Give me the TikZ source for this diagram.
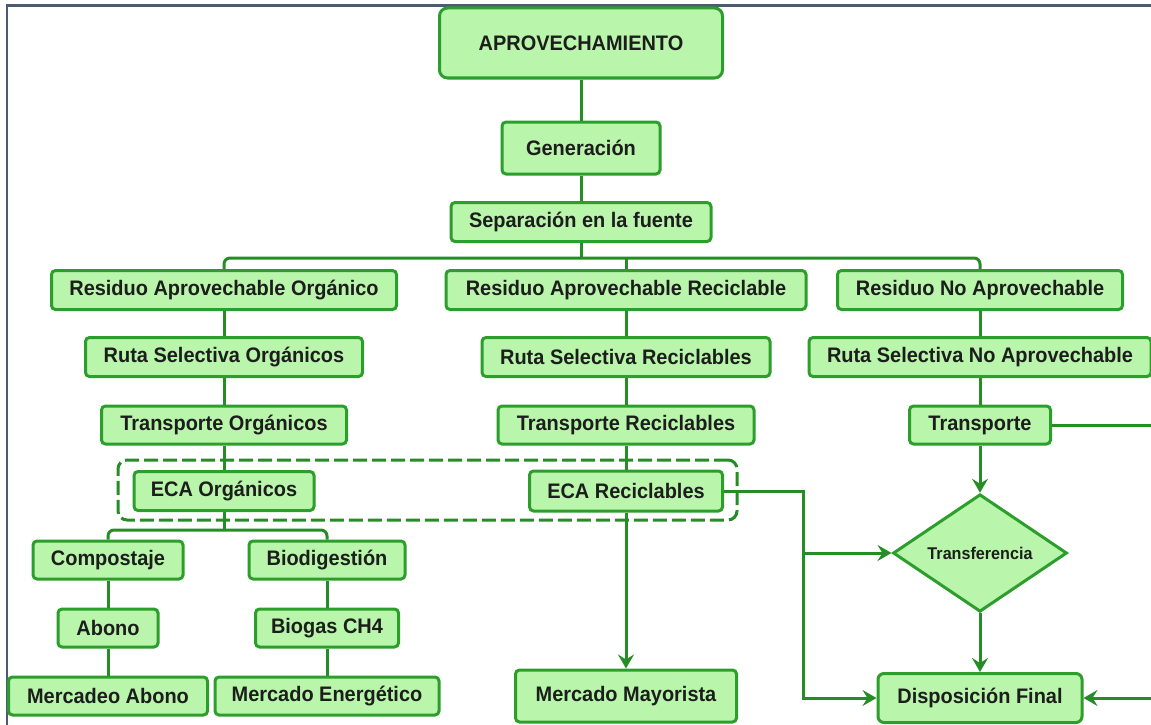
\documentclass[tikz,border=0pt]{standalone}
\usepackage{fontspec}
\setmainfont{Liberation Sans}[FakeStretch=0.95]
\usetikzlibrary{shapes.geometric,arrows.meta}
\definecolor{boxfill}{RGB}{186,245,172}
\definecolor{boxdraw}{RGB}{44,158,44}
\definecolor{linecol}{RGB}{38,140,38}
\definecolor{txtcol}{RGB}{28,30,28}
\definecolor{framecol}{RGB}{75,91,114}
\tikzset{
  box/.style={draw=boxdraw, fill=boxfill, line width=3pt, rounded corners=4pt,
    inner sep=0pt, text=txtcol, font=\fontsize{21}{24}\selectfont\bfseries},
  conn/.style={draw=linecol, line width=3pt},
  arr/.style={conn, -{Stealth[length=14pt,width=16pt,inset=5pt]}},
  grp/.style={draw=linecol, line width=3pt, dash pattern=on 14pt off 5pt, rounded corners=9pt},
}
\begin{document}
\begin{tikzpicture}[x=1pt,y=-1pt]
\path[use as bounding box] (0,0) rectangle (1151,725);
% frame
\draw[framecol, line width=2.4pt] (7,725) -- (7,5.5) -- (1151,5.5);

% dashed group around ECA nodes
\node[grp, minimum width=619pt, minimum height=60pt, inner sep=0pt] (group) at (427.5,490) {};

% nodes
\node[box, rounded corners=8pt, minimum width=283pt, minimum height=70pt] (apro) at (581,43) {APROVECHAMIENTO};
\node[box, minimum width=158pt, minimum height=52pt] (gen) at (581,148) {Generación};
\node[box, minimum width=260pt, minimum height=39pt] (sep) at (581,222) {Separación en la fuente};

\node[box, minimum width=345pt, minimum height=39pt] (rao) at (224,290) {Residuo Aprovechable Orgánico};
\node[box, minimum width=360pt, minimum height=39pt] (rar) at (626,290) {Residuo Aprovechable Reciclable};
\node[box, minimum width=285pt, minimum height=39pt] (rna) at (980,290) {Residuo No Aprovechable};

\node[box, minimum width=277pt, minimum height=39pt] (rso) at (224,357) {Ruta Selectiva Orgánicos};
\node[box, minimum width=288pt, minimum height=39pt] (rsr) at (626,357) {Ruta Selectiva Reciclables};
\node[box, minimum width=342pt, minimum height=39pt] (rsn) at (980,357) {Ruta Selectiva No Aprovechable};

\node[box, minimum width=245pt, minimum height=38pt] (to) at (224,425) {Transporte Orgánicos};
\node[box, minimum width=256pt, minimum height=38pt] (tr) at (626,425) {Transporte Reciclables};
\node[box, minimum width=141pt, minimum height=38pt] (tn) at (980,425) {Transporte};

\node[box, minimum width=180pt, minimum height=39pt] (ecao) at (224,491) {ECA Orgánicos};
\node[box, minimum width=193pt, minimum height=40pt] (ecar) at (626,491) {ECA Reciclables};

\node[box, minimum width=150pt, minimum height=38pt] (comp) at (108,560) {Compostaje};
\node[box, minimum width=156pt, minimum height=38pt] (bio) at (327,560) {Biodigestión};
\node[box, minimum width=100pt, minimum height=38pt] (abono) at (108,628) {Abono};
\node[box, minimum width=143pt, minimum height=38pt] (biogas) at (327,628) {Biogas CH4};
\node[box, minimum width=199pt, minimum height=38pt] (merab) at (108,696) {Mercadeo Abono};
\node[box, minimum width=224pt, minimum height=38pt] (merene) at (327,696) {Mercado Energético};
\node[box, minimum width=221pt, minimum height=52pt] (mermay) at (626,696) {Mercado Mayorista};

\node[box, diamond, rounded corners=0pt, minimum width=174pt, minimum height=85pt,
  font=\fontsize{17}{20}\selectfont\bfseries] (trf) at (980,553) {Transferencia};
\node[box, rounded corners=6pt, minimum width=204pt, minimum height=49pt] (disp) at (980,698) {Disposición Final};

% connectors
\draw[conn] (apro) -- (gen);
\draw[conn] (gen) -- (sep);
\coordinate (bus) at (581,258);
\draw[conn] (sep) -- (bus);
\draw[conn, rounded corners=6pt] (rao.north) |- (bus) -| (rna.north);
\draw[conn] (rar.north) -- (rar.north |- bus);

\draw[conn] (rao) -- (rso);
\draw[conn] (rso) -- (to);
\draw[conn] (to) -- (ecao);
\draw[conn] (rar) -- (rsr);
\draw[conn] (rsr) -- (tr);
\draw[conn] (tr) -- (ecar);
\draw[conn] (rna) -- (rsn);
\draw[conn] (rsn) -- (tn);

\coordinate (obus) at (224,530);
\draw[conn] (ecao) -- (obus);
\draw[conn, rounded corners=6pt] (comp.north) |- (obus) -| (bio.north);
\draw[conn] (comp) -- (abono);
\draw[conn] (abono) -- (merab);
\draw[conn] (bio) -- (biogas);
\draw[conn] (biogas) -- (merene);

\draw[arr] (ecar) -- (mermay);
\coordinate (j1) at (803,698);
\coordinate (j2) at (803,553);
\draw[arr] (ecar.east) -| (j1) -- (disp.west);
\draw[arr] (j2) -- (trf.west);

\draw[arr] (tn) -- (trf);
\draw[arr] (trf) -- (disp);

\coordinate (r1) at (1151,425);
\coordinate (r2) at (1151,698);
\draw[conn] (tn.east) -- (r1);
\draw[arr] (r2) -- (disp.east);
\end{tikzpicture}
\end{document}
